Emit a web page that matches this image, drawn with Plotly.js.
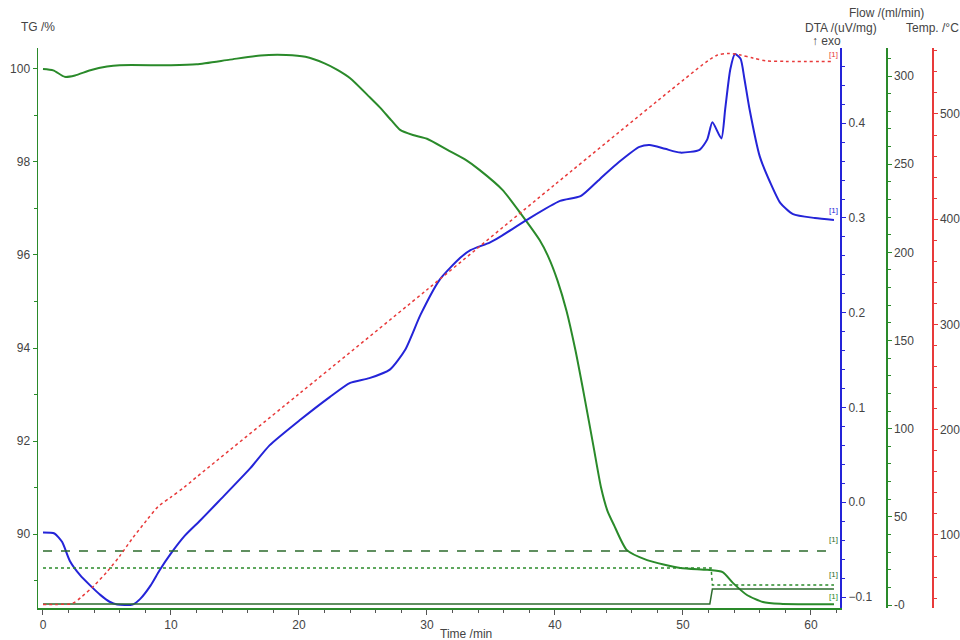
<!DOCTYPE html>
<html>
<head>
<meta charset="utf-8">
<script src="https://cdn.plot.ly/plotly-3.0.1.min.js"></script>
<style>html,body{margin:0;padding:0;background:#fff;}#chart{width:960px;height:640px;}</style>
</head>
<body>
<div id="chart"></div>
<script>
// ---- Data ----
// TG (%)
const tgTime = [0, 0.8, 1.7, 2.5, 3.7, 5, 6, 10, 12, 14.6, 17, 19, 20.5, 22, 23, 24, 25.5, 26.3, 27.2, 27.9, 28.9, 30, 31.6, 33, 34.1, 35.9, 37.3, 38.8, 39.5, 40.2, 40.9, 41.6, 42.3, 43.0, 43.6, 44.1, 44.6, 45.6, 47.2, 49.8, 51.9, 53.1, 53.9, 55.0, 56.25, 57.6, 59, 61.8];
const tgValue = [100.0, 99.97, 99.83, 99.86, 99.97, 100.05, 100.08, 100.08, 100.1, 100.2, 100.29, 100.3, 100.26, 100.12, 99.98, 99.8, 99.4, 99.18, 98.9, 98.69, 98.58, 98.5, 98.26, 98.05, 97.83, 97.40, 96.90, 96.32, 95.95, 95.45, 94.8, 93.95, 92.95, 91.9, 91.0, 90.5, 90.2, 89.66, 89.44, 89.27, 89.23, 89.18, 88.95, 88.69, 88.54, 88.5, 88.49, 88.49];

// DTA (uV/mg)
const dtaTime = [0, 0.9, 1.5, 2.1, 2.9, 3.7, 4.5, 5.2, 5.8, 7.0, 7.6, 8.4, 9.1, 10, 11.1, 12.3, 13.8, 16.2, 17.7, 20.1, 22.4, 24, 25.5, 27.1, 28.3, 29.5, 31, 32.6, 33.4, 34.9, 35.7, 37.8, 40.4, 42, 43.5, 45, 46.6, 47.4, 48.6, 49.8, 51.3, 51.9, 52.3, 53.0, 53.3, 53.7, 54.06, 54.5, 54.8, 55.2, 56.0, 56.8, 57.6, 58.6, 60.3, 61.8];
const dtaValue = [-0.032, -0.033, -0.042, -0.062, -0.077, -0.088, -0.098, -0.105, -0.108, -0.108, -0.102, -0.088, -0.072, -0.054, -0.035, -0.019, 0.002, 0.036, 0.060, 0.087, 0.111, 0.126, 0.131, 0.140, 0.161, 0.198, 0.235, 0.258, 0.266, 0.274, 0.280, 0.298, 0.318, 0.323, 0.341, 0.359, 0.375, 0.377, 0.373, 0.369, 0.372, 0.383, 0.401, 0.384, 0.415, 0.457, 0.473, 0.468, 0.447, 0.415, 0.365, 0.338, 0.316, 0.304, 0.300, 0.298];

// Temperature (°C)
const tempTime = [0, 1, 2.3, 3, 4, 5, 6, 7, 8.1, 9, 10, 11, 12, 20, 30, 40, 50, 52, 52.7, 53.5, 54.5, 55.5, 56.5, 58, 61.8];
const tempValue = [34, 34, 35, 41, 52, 65, 80, 97, 114, 127, 136, 145, 155, 234, 333, 433, 532, 551, 556, 557.5, 556, 553, 550.5, 550, 550];

// Flow (ml/min)
const flow1Time = [0, 61.8];
const flow1Value = [30.6, 30.6];
const flow2Time = [0, 52.2, 52.3, 61.8];
const flow2Value = [21, 21, 11.4, 11.4];
const flow3Time = [0, 52.1, 52.3, 61.8];
const flow3Value = [0.6, 0.6, 9.1, 9.1];

// Tick labels
const tgTicks = [90, 92, 94, 96, 98, 100];
const flowTicks = [0, 50, 100, 150, 200, 250, 300];
const flowTickText = ['-0', '50', '100', '150', '200', '250', '300'];
const tempTicks = [100, 200, 300, 400, 500];

const GREEN = '#2a8a2a';
const DGREEN = '#2d6b2d';
const BLUE = '#2424d8';
const RED = '#e83a3a';
const TXT = '#444444';
const FONT = 'Liberation Sans, Arial, sans-serif';

const traces = [
  {x: flow1Time, y: flow1Value, yaxis: 'y3', mode: 'lines', line: {color: DGREEN, width: 1.6, dash: 'dash'}},
  {x: flow2Time, y: flow2Value, yaxis: 'y3', mode: 'lines', line: {color: GREEN, width: 1.5, dash: 'dot'}},
  {x: flow3Time, y: flow3Value, yaxis: 'y3', mode: 'lines', line: {color: DGREEN, width: 1.5}},
  {x: tempTime, y: tempValue, yaxis: 'y4', mode: 'lines', line: {color: RED, width: 1.5, dash: 'dot', shape: 'spline', smoothing: 0.8}},
  {x: dtaTime, y: dtaValue, yaxis: 'y2', mode: 'lines', line: {color: BLUE, width: 2, shape: 'spline', smoothing: 0.6}},
  {x: tgTime, y: tgValue, yaxis: 'y', mode: 'lines', line: {color: GREEN, width: 2, shape: 'spline', smoothing: 0.6}}
];

const axFont = {family: FONT, size: 12, color: TXT};
const plotW = 960 - 38 - 20;
const dom = 802 / plotW;

const layout = {
  width: 960, height: 640, autosize: false,
  margin: {l: 38, r: 20, t: 48, b: 32, pad: 0},
  paper_bgcolor: '#ffffff', plot_bgcolor: '#ffffff',
  showlegend: false,
  font: {family: FONT, size: 12, color: TXT},
  xaxis: {
    domain: [0, dom], range: [-0.39, 62.27],
    showline: true, linecolor: GREEN, linewidth: 1.5,
    showgrid: false, zeroline: false,
    ticks: 'outside', ticklen: 5, tickcolor: '#555', tickwidth: 1,
    tick0: 0, dtick: 10, tickfont: axFont,
    minor: {dtick: 2, ticklen: 3, tickcolor: '#555', ticks: 'outside', showgrid: false}
  },
  yaxis: {
    range: [88.41, 100.45],
    showline: true, linecolor: GREEN, linewidth: 1.5,
    showgrid: false, zeroline: false,
    ticks: 'outside', ticklen: 4, tickcolor: GREEN,
    tickvals: tgTicks, tickfont: axFont,
    minor: {dtick: 1, ticklen: 3, tickcolor: GREEN, ticks: 'outside', showgrid: false}
  },
  yaxis2: {
    overlaying: 'y', side: 'right', anchor: 'x',
    range: [-0.1116, 0.4794],
    showline: true, linecolor: BLUE, linewidth: 2,
    showgrid: false, zeroline: false,
    ticks: 'outside', ticklen: 4, tickcolor: BLUE,
    tick0: 0, dtick: 0.1, tickformat: '.1f', tickfont: axFont,
    minor: {dtick: 0.02, ticklen: 3, tickcolor: BLUE, ticks: 'outside', showgrid: false}
  },
  yaxis3: {
    overlaying: 'y', side: 'right', anchor: 'free', position: (886 - 38) / plotW,
    range: [-1.7, 315.9],
    showline: true, linecolor: GREEN, linewidth: 1.5,
    showgrid: false, zeroline: false,
    ticks: 'outside', ticklen: 4, tickcolor: GREEN,
    tickvals: flowTicks, ticktext: flowTickText, tickfont: axFont,
    minor: {dtick: 10, ticklen: 3, tickcolor: GREEN, ticks: 'outside', showgrid: false}
  },
  yaxis4: {
    overlaying: 'y', side: 'right', anchor: 'free', position: (932 - 38) / plotW,
    range: [30.6, 562.7],
    showline: true, linecolor: RED, linewidth: 1.5,
    showgrid: false, zeroline: false,
    ticks: 'outside', ticklen: 4, tickcolor: RED,
    tickvals: tempTicks, tickfont: axFont,
    minor: {dtick: 20, ticklen: 3, tickcolor: RED, ticks: 'outside', showgrid: false}
  },
  annotations: [
    {text: 'TG /%', xref: 'paper', yref: 'paper', x: (38 - 38) / plotW, y: 1 + (48 - 27) / 560, showarrow: false, font: axFont, xanchor: 'center', yanchor: 'middle'},
    {text: 'Flow /(ml/min)', xref: 'paper', yref: 'paper', x: (886 - 38) / plotW, y: 1 + (48 - 13) / 560, showarrow: false, font: axFont, xanchor: 'center', yanchor: 'middle'},
    {text: 'DTA /(uV/mg)', xref: 'paper', yref: 'paper', x: (841 - 38) / plotW, y: 1 + (48 - 28) / 560, showarrow: false, font: axFont, xanchor: 'center', yanchor: 'middle'},
    {text: 'Temp. /°C', xref: 'paper', yref: 'paper', x: (932 - 38) / plotW, y: 1 + (48 - 28) / 560, showarrow: false, font: axFont, xanchor: 'center', yanchor: 'middle'},
    {text: '↑ exo', xref: 'paper', yref: 'paper', x: (826 - 38) / plotW, y: 1 + (48 - 41) / 560, showarrow: false, font: {family: FONT, size: 12, color: TXT}, xanchor: 'center', yanchor: 'middle'},
    {text: 'Time /min', xref: 'paper', yref: 'paper', x: (466 - 38) / plotW, y: -(634 - 608) / 560, showarrow: false, font: axFont, xanchor: 'center', yanchor: 'middle'},
    {text: '[1]', xref: 'x', yref: 'y2', x: 61.8, y: 0.298, yshift: 9, showarrow: false, font: {family: FONT, size: 8, color: BLUE}},
    {text: '[1]', xref: 'x', yref: 'y4', x: 61.8, y: 550, yshift: 7, showarrow: false, font: {family: FONT, size: 8, color: RED}},
    {text: '[1]', xref: 'x', yref: 'y3', x: 61.8, y: 30.6, yshift: 12, showarrow: false, font: {family: FONT, size: 8, color: DGREEN}},
    {text: '[1]', xref: 'x', yref: 'y3', x: 61.8, y: 11.4, yshift: 10, showarrow: false, font: {family: FONT, size: 8, color: DGREEN}},
    {text: '[1]', xref: 'x', yref: 'y', x: 61.8, y: 88.49, yshift: 8, showarrow: false, font: {family: FONT, size: 8, color: GREEN}}
  ]
};

Plotly.newPlot('chart', traces, layout, {staticPlot: true, displayModeBar: false});
</script>
</body>
</html>
